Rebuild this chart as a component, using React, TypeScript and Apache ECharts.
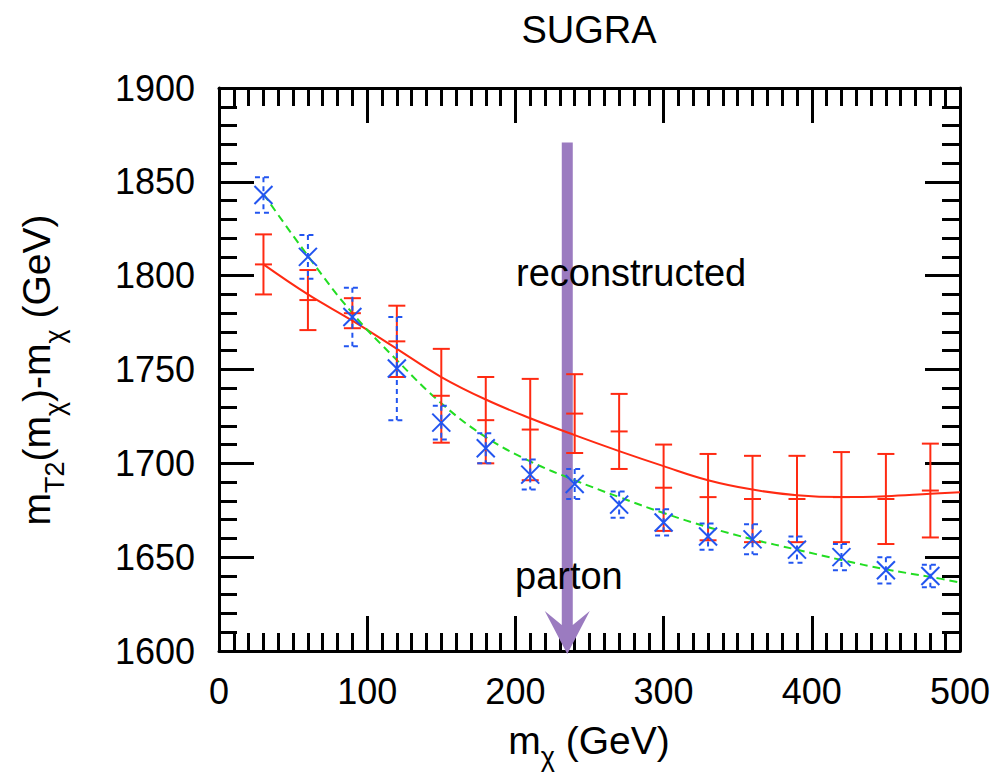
import React, { useEffect, useRef } from "react";
import * as echarts from "echarts";

const FONT = '"Liberation Sans", Arial, Helvetica, sans-serif';

// data
const massX = [30, 60, 90, 120, 150, 180, 210, 240, 270, 300, 330, 360, 390, 420, 450, 480];
const recoY = [1806, 1787, 1780, 1765, 1736, 1723, 1718, 1726.5, 1717, 1687, 1682, 1681, 1681, 1682, 1681, 1685.5];
const recoErr = [16, 16, 8, 19, 25, 23, 27, 21, 20, 23, 23, 23, 23, 24, 24, 25];
const partonY = [1843, 1810, 1778, 1750.5, 1721.7, 1708, 1694, 1689, 1678, 1668.5, 1661, 1659.5, 1654, 1650, 1643, 1640];
const partonErr = [9.5, 11.7, 15.6, 27.5, 9, 8, 8, 8, 7, 7, 7, 8, 7, 7, 7, 6];

const recoFitX = [30, 60, 90, 120, 150, 180, 210, 240, 270, 300, 330, 360, 390, 420, 450, 480, 500];
const recoFitY = [1806, 1790, 1776, 1761, 1746, 1734, 1724, 1715, 1706.5, 1698.5, 1691, 1686, 1683, 1682, 1682.5, 1683.8, 1684.6];
const partonFitX = [30, 60, 90, 120, 150, 180, 210, 240, 270, 300, 330, 360, 390, 420, 450, 480, 500];
const partonFitY = [1843.5, 1810.5, 1780, 1755, 1732, 1714, 1701, 1691, 1682, 1673.5, 1666, 1659.5, 1654, 1648.5, 1643.5, 1639.5, 1636.5];

// arrow: x position, top value, tip value
const arrowX = [235];
const arrowTop = [1871];
const arrowTip = [1598.4];

const xTicks = { min: 0, max: 500, interval: 100 };
const yTicks = { min: 1600, max: 1900, interval: 50 };

const RED = "#ff2a12";
const BLUE = "#2255f0";
const GREEN = "#22dd22";
const PURPLE = "#9b7bc0";

export default function App() {
  const ref = useRef<HTMLDivElement>(null);
  useEffect(() => {
    if (!ref.current) return;
    const chart = echarts.init(ref.current, null, { renderer: "svg" });

    const baseX = (pos: string, showLabel: boolean) => ({
      type: "value",
      position: pos,
      min: xTicks.min,
      max: xTicks.max,
      interval: xTicks.interval,
      axisLine: { show: true, onZero: false, lineStyle: { color: "#000", width: 3 } },
      axisTick: { show: true, inside: true, length: 35, lineStyle: { color: "#000", width: 3 } },
      minorTick: { show: true, splitNumber: 10, length: 18, lineStyle: { color: "#000", width: 3 } },
      splitLine: { show: false },
      minorSplitLine: { show: false },
      axisLabel: {
        show: showLabel,
        fontSize: 36,
        color: "#000",
        fontFamily: FONT,
        margin: 22,
        formatter: (v: number) => String(v),
      },
    });
    const baseY = (pos: string, showLabel: boolean) => ({
      type: "value",
      position: pos,
      min: yTicks.min,
      max: yTicks.max,
      interval: yTicks.interval,
      axisLine: { show: true, onZero: false, lineStyle: { color: "#000", width: 3 } },
      axisTick: { show: true, inside: true, length: 35, lineStyle: { color: "#000", width: 3 } },
      minorTick: { show: true, splitNumber: 5, length: 18, lineStyle: { color: "#000", width: 3 } },
      splitLine: { show: false },
      minorSplitLine: { show: false },
      axisLabel: {
        show: showLabel,
        fontSize: 36,
        color: "#000",
        fontFamily: FONT,
        margin: 24,
        formatter: (v: number) => String(v),
      },
    });

    const recoData = massX.map((x, i) => [x, recoY[i], recoErr[i]]);
    const partonData = massX.map((x, i) => [x, partonY[i], partonErr[i]]);

    const cap = 8.5;

    const option: any = {
      animation: false,
      backgroundColor: "#fff",
      grid: { left: 219, right: 41, top: 88, bottom: 123, containLabel: false },
      xAxis: [baseX("bottom", true), baseX("top", false)],
      yAxis: [baseY("left", true), baseY("right", false)],
      graphic: [
        {
          type: "text",
          x: 589,
          y: 30,
          z: 100,
          style: { text: "SUGRA", font: `38px ${FONT}`, fill: "#000", align: "center", verticalAlign: "middle" },
        },
        {
          type: "text",
          x: 516,
          y: 273,
          z: 100,
          style: { text: "reconstructed", font: `38px ${FONT}`, fill: "#000", align: "left", verticalAlign: "middle" },
        },
        {
          type: "text",
          x: 515,
          y: 576,
          z: 100,
          style: { text: "parton", font: `38px ${FONT}`, fill: "#000", align: "left", verticalAlign: "middle" },
        },
        {
          type: "text",
          x: 589,
          y: 742,
          z: 100,
          style: {
            text: "{n|m}{s|χ}{n| (GeV)}",
            align: "center",
            verticalAlign: "middle",
            rich: {
              n: { fontSize: 39, fontFamily: FONT, lineHeight: 42, verticalAlign: "top", fill: "#000" },
              s: { fontSize: 27, fontFamily: FONT, lineHeight: 27, padding: [22, 0, 0, 0], verticalAlign: "top", fill: "#000" },
            },
          },
        },
        {
          type: "text",
          x: 38,
          y: 370,
          rotation: Math.PI / 2,
          z: 100,
          style: {
            text: "{n|m}{s|T2}{n|(m}{s|χ}{n|)-m}{s|χ}{n| (GeV)}",
            align: "center",
            verticalAlign: "middle",
            rich: {
              n: { fontSize: 39, fontFamily: FONT, lineHeight: 42, verticalAlign: "top", fill: "#000" },
              s: { fontSize: 27, fontFamily: FONT, lineHeight: 27, padding: [24, 0, 0, 0], verticalAlign: "top", fill: "#000" },
            },
          },
        },
      ],
      series: [
        {
          type: "custom",
          name: "arrow",
          clip: false,
          z: 1,
          data: arrowX.map((x, i) => [x, arrowTop[i], arrowTip[i]]),
          encode: { x: 0, y: [1, 2] },
          renderItem: (params: any, api: any) => {
            const x = api.value(0);
            const t = api.coord([x, api.value(1)]);
            const b = api.coord([x, api.value(2)]);
            const cx = t[0];
            const hw = 5.5;
            const headW = 22.5;
            const headL = 43;
            const notch = 29;
            return {
              type: "polygon",
              shape: {
                points: [
                  [cx - hw, t[1]],
                  [cx - hw, b[1] - notch],
                  [cx - headW, b[1] - headL],
                  [cx, b[1]],
                  [cx + headW, b[1] - headL],
                  [cx + hw, b[1] - notch],
                  [cx + hw, t[1]],
                ],
              },
              style: { fill: PURPLE, stroke: null },
            };
          },
        },
        {
          type: "line",
          name: "reco fit",
          data: recoFitX.map((x, i) => [x, recoFitY[i]]),
          smooth: 0.4,
          showSymbol: false,
          symbol: "none",
          z: 3,
          lineStyle: { color: RED, width: 2 },
        },
        {
          type: "line",
          name: "parton fit",
          data: partonFitX.map((x, i) => [x, partonFitY[i]]),
          smooth: 0.4,
          showSymbol: false,
          symbol: "none",
          z: 3,
          lineStyle: { color: GREEN, width: 2, type: [8, 5] },
        },
        {
          type: "custom",
          name: "reconstructed",
          z: 4,
          data: recoData,
          encode: { x: 0, y: 1 },
          renderItem: (params: any, api: any) => {
            const x = api.value(0);
            const y = api.value(1);
            const e = api.value(2);
            const p = api.coord([x, y]);
            const t = api.coord([x, y + e]);
            const b = api.coord([x, y - e]);
            const st = { stroke: RED, lineWidth: 2 };
            return {
              type: "group",
              children: [
                { type: "line", shape: { x1: p[0], y1: t[1], x2: p[0], y2: b[1] }, style: st },
                { type: "line", shape: { x1: p[0] - cap, y1: t[1], x2: p[0] + cap, y2: t[1] }, style: st },
                { type: "line", shape: { x1: p[0] - cap, y1: b[1], x2: p[0] + cap, y2: b[1] }, style: st },
                { type: "line", shape: { x1: p[0] - cap, y1: p[1], x2: p[0] + cap, y2: p[1] }, style: st },
              ],
            };
          },
        },
        {
          type: "custom",
          name: "parton",
          z: 5,
          data: partonData,
          encode: { x: 0, y: 1 },
          renderItem: (params: any, api: any) => {
            const x = api.value(0);
            const y = api.value(1);
            const e = api.value(2);
            const p = api.coord([x, y]);
            const t = api.coord([x, y + e]);
            const b = api.coord([x, y - e]);
            const dashed = { stroke: BLUE, lineWidth: 2, lineDash: [5, 4] };
            const solid = { stroke: BLUE, lineWidth: 2 };
            const m = 9;
            return {
              type: "group",
              children: [
                { type: "line", shape: { x1: p[0], y1: t[1], x2: p[0], y2: b[1] }, style: dashed },
                { type: "line", shape: { x1: p[0] - cap, y1: t[1], x2: p[0] + cap, y2: t[1] }, style: dashed },
                { type: "line", shape: { x1: p[0] - cap, y1: b[1], x2: p[0] + cap, y2: b[1] }, style: dashed },
                { type: "line", shape: { x1: p[0] - m, y1: p[1] - m, x2: p[0] + m, y2: p[1] + m }, style: solid },
                { type: "line", shape: { x1: p[0] - m, y1: p[1] + m, x2: p[0] + m, y2: p[1] - m }, style: solid },
              ],
            };
          },
        },
      ],
    };
    chart.setOption(option);
    return () => chart.dispose();
  }, []);
  return (
    <div
      ref={ref}
      style={{ position: "absolute", left: 0, top: 0, width: 1001, height: 774, background: "#fff" }}
    />
  );
}
